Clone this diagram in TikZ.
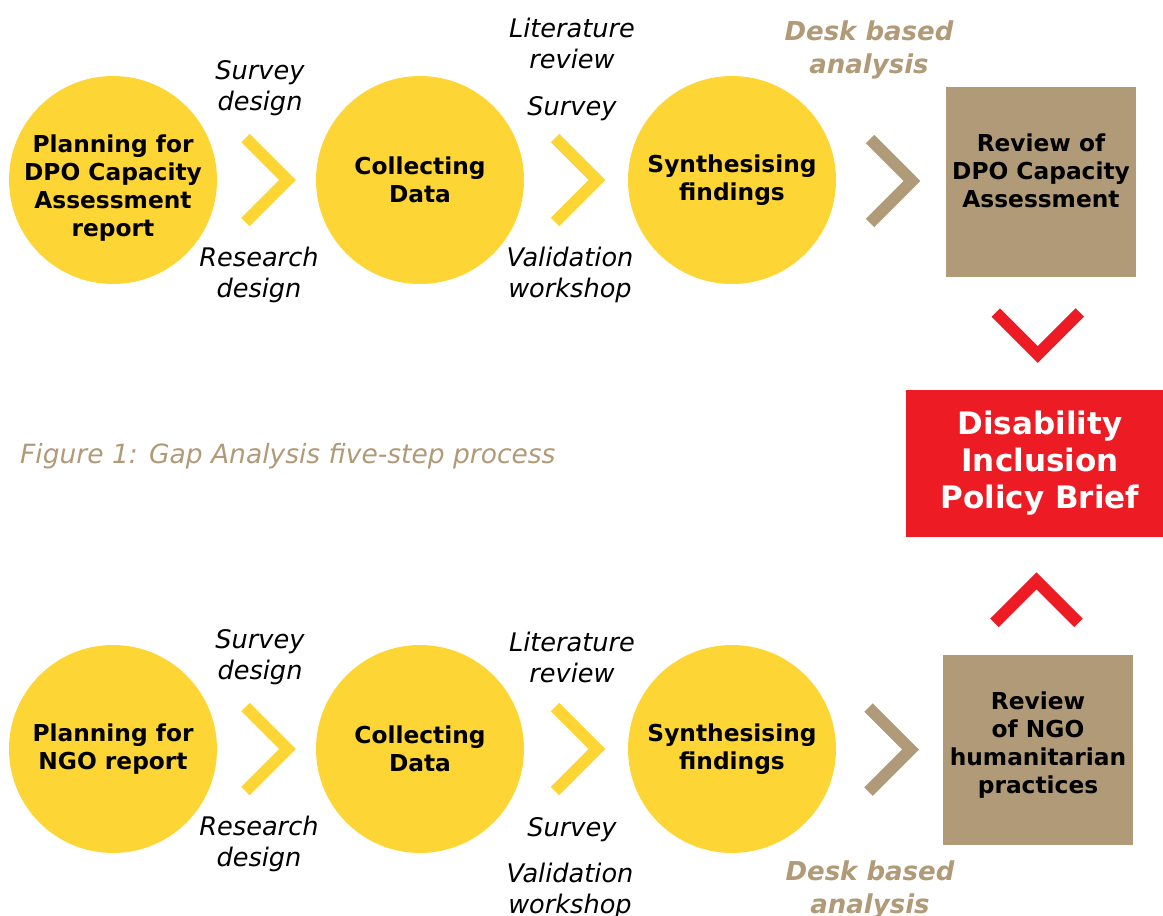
\documentclass[tikz,border=0pt]{standalone}
\usepackage{fontspec}
\setmainfont{DejaVu Sans}
\usetikzlibrary{calc}
\definecolor{dpoyellow}{HTML}{FDD535}
\definecolor{desktan}{HTML}{B09A77}
\definecolor{briefred}{HTML}{ED1C24}
\tikzset{
  chevron/.pic={\draw[pic actions, line width=12pt, line join=miter] (-21,-42) -- (21,0) -- (-21,42);}
}
\begin{document}
\begin{tikzpicture}[x=1pt, y=-1pt,
    stage/.style={circle, fill=dpoyellow, minimum size=208pt, inner sep=0pt, align=center, font=\bfseries\fontsize{23.3}{28}\selectfont},
    review/.style={rectangle, fill=desktan, minimum size=190pt, inner sep=0pt},
    boxtext/.style={align=center, inner sep=0pt, font=\bfseries\fontsize{23.3}{28}\selectfont},
    brief/.style={rectangle, fill=briefred, text=white, minimum width=257pt, minimum height=147pt, inner sep=0pt, align=center, font=\bfseries\fontsize{31}{37}\selectfont},
    note/.style={align=center, inner sep=0pt, font=\itshape\fontsize{25.6}{31}\selectfont},
    desk/.style={note, text=desktan, font=\bfseries\itshape\fontsize{26}{33}\selectfont},
    caption/.style={anchor=west, inner sep=0pt, text=desktan, font=\itshape\fontsize{26.5}{30}\selectfont}]
  \useasboundingbox (0,0) rectangle (1163,916);
  % top row
  \node[stage] (plan1) at (113,180) {};
  \node[boxtext] (plan1text) at (113,188) {Planning for\\DPO Capacity\\Assessment\\report};
  \node[stage] (collect1) at (420,180) {Collecting\\Data};
  \node[stage] (synth1) at (732,180) {Synthesising\\findings};
  \node[review] (rev1) at (1041,182) {};
  \node[boxtext] (rev1text) at (1041,171) {Review of\\DPO Capacity\\Assessment};
  % bottom row
  \node[stage] (plan2) at (113,749) {Planning for\\NGO report};
  \node[stage] (collect2) at (420,749) {Collecting\\Data};
  \node[stage] (synth2) at (732,749) {Synthesising\\findings};
  \node[review] (rev2) at (1038,750) {};
  \node[boxtext] (rev2text) at (1038,745) {Review\\of NGO\\humanitarian\\practices};
  \node[brief] (brief) at (1034.5,463.5) {\hspace*{11pt}Disability\\\hspace*{11pt}Inclusion\\\hspace*{11pt}Policy Brief};
  % chevrons
  \foreach \a/\b/\c in {plan1/collect1/dpoyellow, collect1/synth1/dpoyellow, synth1/rev1/desktan,
                        plan2/collect2/dpoyellow, collect2/synth2/dpoyellow, synth2/rev2/desktan}
    \pic[color=\c] at ($(\a.east)!0.5!(\b.west)$) {chevron};
  \pic[color=briefred, rotate=-90] at ($(rev1.south)!0.5!(brief.north)$) {chevron};
  \pic[color=briefred, rotate=90] at ($(brief.south)!0.55!(rev2.north)$) {chevron};
  % labels
  \node[note] (survd1) at (260,88) {Survey\\design};
  \node[note] (resd1) at (259,275) {Research\\design};
  \node[note] (lit1) at (572,43) {Literature\\review};
  \node[note] (surv1) at (572,109) {Survey};
  \node[note] (valid1) at (570,275) {Validation\\workshop};
  \node[desk] (desk1) at (869,50) {Desk based\\analysis};
  \node[caption] (fig) at (20,456) {Figure 1: Gap Analysis five-step process};
  \node[note] (survd2) at (260,657) {Survey\\design};
  \node[note] (resd2) at (259,844) {Research\\design};
  \node[note] (lit2) at (572,657) {Literature\\review};
  \node[note] (surv2) at (572,830) {Survey};
  \node[note] (valid2) at (570,891) {Validation\\workshop};
  \node[desk] (desk2) at (870,890) {Desk based\\analysis};
\end{tikzpicture}
\end{document}
